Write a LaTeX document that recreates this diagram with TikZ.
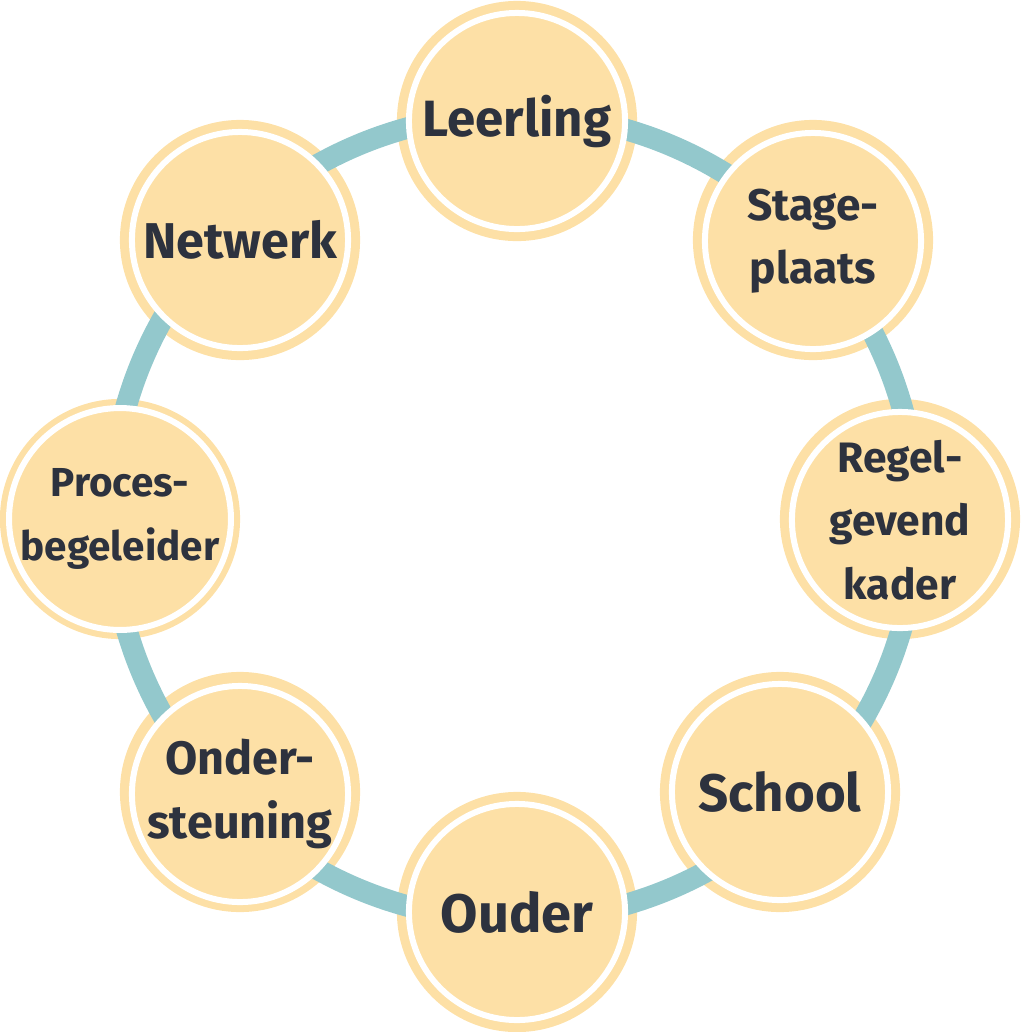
\documentclass[tikz,border=0pt]{standalone}
\usepackage{fontspec}
\setmainfont{Fira Sans}
\definecolor{peach}{HTML}{FDE0A6}
\definecolor{ringteal}{HTML}{93C8CC}
\definecolor{ink}{HTML}{2D323E}
\begin{document}
\begin{tikzpicture}[x=0.01cm,y=-0.01cm,
  outerdisk/.style={circle, fill=peach, minimum size=2.4cm, inner sep=0pt},
  topic/.style={circle, fill=peach, draw=white, line width=0.06cm, minimum size=2.16cm, inner sep=0pt, text=ink, align=center},
  fs/.style={font=\fontsize{#1}{18}\selectfont\bfseries}]
\useasboundingbox (0,0) rectangle (1032,1032);
% outer peach disks (under the ring)
\foreach \n/\x/\y in {leer/517/121, stage/813/240, regel/900/519, school/780/792, ouder/517/912, onder/240/792, proces/120/519, netwerk/240/240}
  \node[outerdisk] (\n-o) at (\x,\y) {};
% ring
\coordinate (ctr) at (514,517);
\draw[ringteal, line width=0.215cm] (ctr) circle [radius=4.03cm];
% topic circles
\node[topic,fs=14.5] (leer) at (517,121) {Leerling};
\node[topic,fs=12.6] (stage) at (813,241) {Stage-\\plaats};
\node[topic,fs=12.1] (regel) at (900,520) {Regel-\\gevend\\kader};
\node[topic,fs=15] (school) at (780,792) {School};
\node[topic,fs=15.4] (ouder) at (517,912) {Ouder};
\node[topic,fs=13.3] (onder) at (240,794) {Onder-\\steuning};
\node[topic,fs=11.5] (proces) at (120,519) {Proces-\\begeleider};
\node[topic,fs=14.3] (netwerk) at (240,240) {Netwerk};
\end{tikzpicture}
\end{document}
